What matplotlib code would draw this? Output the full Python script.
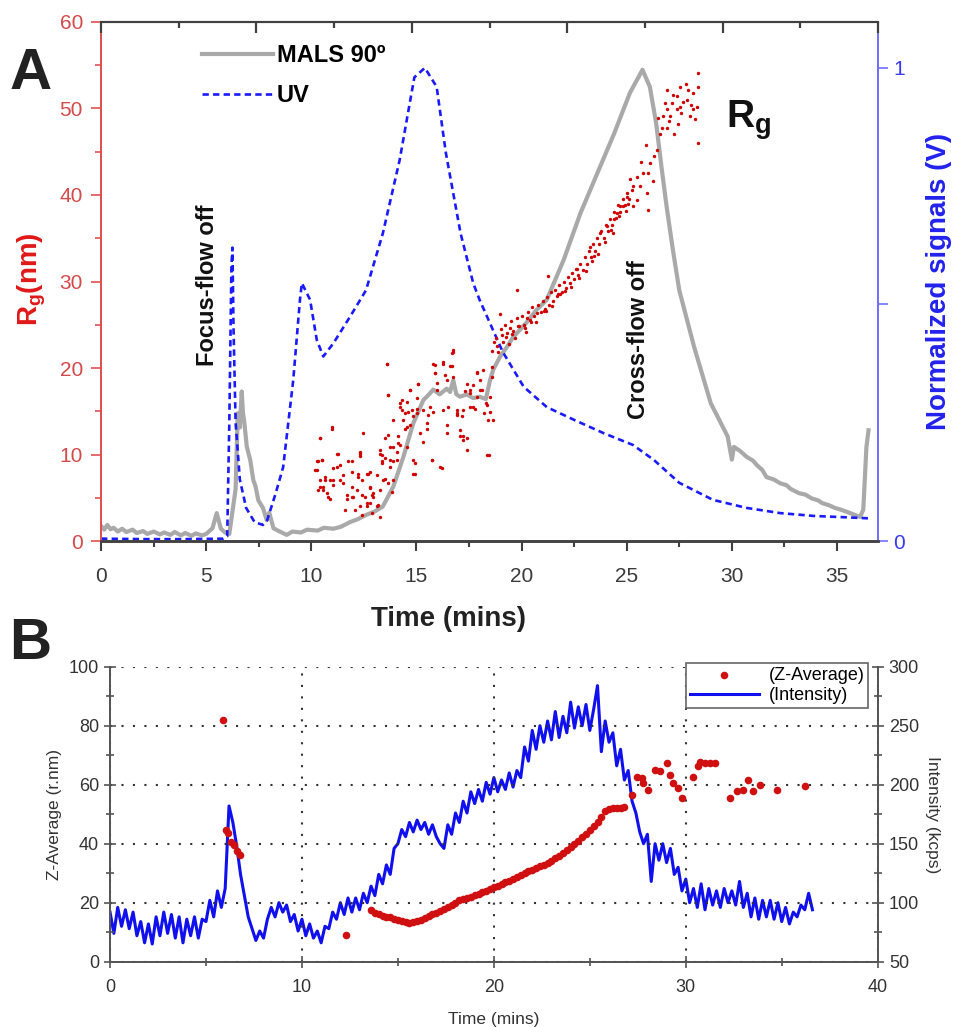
import numpy as np
import matplotlib
matplotlib.use('Agg')
import matplotlib.pyplot as plt

plt.rcParams['font.family'] = ['Liberation Sans', 'DejaVu Sans']
plt.rcParams['mathtext.fontset'] = 'custom'
plt.rcParams['mathtext.rm'] = 'Liberation Sans'
plt.rcParams['mathtext.bf'] = 'Liberation Sans:bold'

# ---------------- panel A data ----------------
# UV trace (normalized)
uv_t = [0.0, 2.0, 4.0, 5.8, 6.0, 6.1, 6.2, 6.25, 6.3, 6.4, 6.6, 6.9, 7.3, 7.7, 7.9, 8.3, 8.66, 9.14,
        9.46, 9.55, 9.94, 10.26, 10.57, 11.05, 11.84, 12.6, 13.4, 14.2, 14.9, 15.4, 15.96, 16.4,
        17.1, 17.7, 18.0, 19.1, 20.1, 21.2, 22.5, 23.9, 25.3, 26.3, 27.5, 29.1, 30.7, 32.3, 33.9,
        35.5, 36.5]
uv_v = [0.005, 0.004, 0.004, 0.005, 0.01, 0.25, 0.58, 0.62, 0.45, 0.25, 0.13, 0.07, 0.04, 0.034,
        0.044, 0.10, 0.156, 0.34, 0.51, 0.545, 0.51, 0.425, 0.39, 0.418, 0.474, 0.53, 0.65, 0.805,
        0.98, 1.0, 0.96, 0.82, 0.65, 0.545, 0.51, 0.40, 0.326, 0.283, 0.256, 0.228, 0.203, 0.171,
        0.123, 0.087, 0.07, 0.059, 0.053, 0.05, 0.048]

# MALS 90 deg trace (normalized)
mals_t = [0.0, 0.15, 0.3, 0.45, 0.6, 0.8, 1.0, 1.2, 1.5, 1.7, 2.0, 2.2, 2.5, 2.8, 3.0, 3.3, 3.5, 3.8,
          4.0, 4.3, 4.5, 4.8, 5.0, 5.3, 5.5, 5.7, 5.9, 6.1, 6.4, 6.5, 6.6, 6.69, 6.75, 6.8, 6.93,
          7.1, 7.24, 7.35, 7.48, 7.7, 7.88, 8.0, 8.2, 8.5, 8.83, 9.1, 9.5, 9.8, 10.3, 10.6, 11.05,
          11.4, 11.84, 12.2, 12.6, 13.0, 13.4, 13.9, 14.38, 14.85, 15.33, 15.6, 15.8, 16.1, 16.44,
          16.6, 16.75, 16.9, 17.07, 17.4, 17.7, 18.0, 18.3, 18.5, 18.65, 18.97, 19.3, 19.6, 20.2,
          20.7, 21.2, 22.0, 22.8, 23.6, 24.4, 25.15, 25.75, 26.1, 26.4, 26.65, 26.9, 27.2, 27.5,
          28.2, 29.0, 29.8, 30.0, 30.1, 30.4, 30.7, 31.0, 31.2, 31.45, 31.65, 32.0, 32.3, 32.6,
          32.8, 33.2, 33.5, 33.8, 34.1, 34.3, 34.6, 34.9, 35.2, 35.45, 35.8, 36.1, 36.25, 36.4, 36.5]
mals_v = [0.032, 0.024, 0.034, 0.025, 0.028, 0.020, 0.026, 0.019, 0.024, 0.017, 0.021, 0.015, 0.020,
          0.014, 0.018, 0.013, 0.019, 0.012, 0.017, 0.011, 0.016, 0.012, 0.015, 0.027, 0.059, 0.026,
          0.018, 0.015, 0.11, 0.27, 0.24, 0.316, 0.27, 0.256, 0.20, 0.17, 0.129, 0.115, 0.086, 0.07,
          0.044, 0.06, 0.027, 0.02, 0.013, 0.02, 0.018, 0.024, 0.022, 0.028, 0.026, 0.03, 0.040, 0.046,
          0.055, 0.062, 0.073, 0.115, 0.178, 0.249, 0.298, 0.31, 0.32, 0.31, 0.322, 0.315, 0.34,
          0.31, 0.305, 0.31, 0.302, 0.305, 0.30, 0.34, 0.362, 0.389, 0.41, 0.431, 0.46, 0.488, 0.51,
          0.594, 0.693, 0.777, 0.861, 0.947, 0.996, 0.96, 0.883, 0.792, 0.706, 0.614, 0.53, 0.411,
          0.291, 0.221, 0.172, 0.199, 0.19, 0.178, 0.17, 0.16, 0.15, 0.135, 0.13, 0.122, 0.118,
          0.11, 0.101, 0.098, 0.09, 0.086, 0.080, 0.076, 0.07, 0.066, 0.062, 0.056, 0.051, 0.066,
          0.199, 0.234]

# Rg scatter (nm)
rg_t = [10.41, 10.49, 10.26, 10.18, 10.41, 10.57, 10.33, 10.65, 10.73, 10.97, 10.89, 11.05, 11.21,
        11.28, 11.36, 11.52, 11.68, 11.76, 11.92, 12.0, 12.08, 12.24, 12.32, 12.39, 12.47, 12.55,
        12.63, 12.71, 12.79, 12.87, 12.95, 13.11, 13.27, 13.35, 13.42, 13.5, 13.58, 13.66, 13.74,
        13.9, 14.06, 14.14, 14.22, 14.3, 14.38, 14.46, 14.54, 14.69, 14.77, 14.85, 14.93, 15.01,
        15.09, 15.17, 15.33, 15.49, 15.64, 15.72, 15.8, 15.88, 15.96, 16.12, 16.28, 16.44, 16.6,
        16.68, 16.75, 16.91, 17.07, 17.23, 17.39, 17.55, 17.71, 17.86, 17.9, 18.0, 18.1, 18.2,
        18.3, 18.4, 18.45, 18.5,
        16.75, 16.28, 15.88, 16.68, 13.58, 15.88, 16.36, 16.75, 15.96, 15.09, 17.39, 17.71, 18.18,
        18.58, 18.58, 17.86, 18.02, 17.31, 17.55, 14.69, 13.66, 14.22, 14.54, 15.01, 14.3, 14.62,
        15.01, 15.8, 16.28, 16.52, 16.91, 17.23, 17.55, 17.78, 18.34, 18.5, 13.9, 14.85, 15.57,
        16.91, 17.15, 18.66, 14.69, 15.49, 14.46, 16.44, 10.97, 10.41, 13.66, 14.14, 14.22, 15.33,
        16.44, 17.07, 17.23, 17.39, 14.54, 13.74, 13.27, 12.32, 11.21, 13.35, 14.06, 14.93, 15.72,
        16.2, 18.34, 10.33, 10.49, 11.05, 11.37, 11.92, 12.32, 13.35, 13.5, 13.74, 13.9, 10.26,
        10.65, 10.89, 11.52, 11.92, 12.24, 12.63, 12.79, 13.11, 13.5, 13.9, 14.85, 10.41, 10.57,
        11.05, 10.81, 11.68, 11.92, 12.16, 12.39, 12.79, 12.87, 13.27, 13.82, 11.6, 12.32, 12.79,
        12.95, 13.19, 12.39, 13.27, 12.63, 13.66,
        18.6, 18.8, 18.9, 19.0, 19.1, 19.2, 19.3, 19.4, 19.5, 19.6, 19.7, 19.8, 19.9, 20.0, 20.1,
        20.2, 20.3, 20.4, 20.5, 20.6, 20.7, 20.8, 20.9, 21.0, 21.1, 21.2, 21.3, 21.4, 21.5, 21.6,
        21.7, 21.8, 21.9, 22.0, 22.1, 22.2, 22.3, 22.4, 22.5, 22.6, 22.7, 22.8, 22.9, 23.0, 23.1,
        23.2, 23.3, 23.4, 23.5, 23.6, 23.7, 23.8, 23.9, 24.0, 24.1, 24.2, 24.3, 24.4, 24.5, 24.6,
        24.7, 24.8, 24.9, 25.0, 25.1, 19.76, 21.27, 18.7, 19.45, 20.25, 21.05, 21.85, 22.65, 23.45,
        24.25, 25.05, 18.97, 18.85, 19.05, 19.25, 19.55, 19.85, 20.15, 20.45, 20.75, 21.15, 21.45,
        21.75, 22.05, 22.35, 22.75, 23.05, 23.35, 23.65, 23.95, 24.35, 24.65, 24.95, 25.25,
        23.25, 23.73, 24.04, 24.52, 24.68, 25.0, 25.31, 25.47, 25.95, 26.02, 26.26, 26.1, 26.42,
        26.58, 26.74, 26.9, 27.13, 27.37, 27.53, 27.85, 28.16, 28.32, 28.4, 28.4, 28.4, 26.9,
        27.05, 27.6, 28.0, 28.16, 26.66, 26.9, 27.37, 27.9, 27.53, 25.47, 25.79, 24.84, 25.31,
        25.63, 26.3, 27.0, 27.7, 28.25, 26.0, 25.9, 27.25, 26.8, 27.2, 27.45, 27.8, 28.05, 26.5,
        25.7, 25.15, 24.4]
rg_v = [11.9, 9.4, 9.2, 8.2, 7.05, 6.3, 5.9, 7.05, 5.5, 13.2, 4.9, 7.05, 8.6, 10.1, 7.05, 6.7, 4.9,
        9.2, 6.3, 5.1, 3.6, 7.8, 10.1, 7.05, 12.5, 5.1, 4.0, 7.8, 6.3, 3.2, 5.5, 4.0, 10.1, 9.2,
        7.05, 11.9, 20.5, 16.9, 8.6, 10.9, 9.4, 11.3, 15.5, 16.3, 14.0, 14.8, 13.2, 17.5, 15.1,
        9.4, 7.8, 14.8, 18.2, 12.5, 15.1, 13.6, 15.5, 9.4, 20.5, 19.4, 17.5, 8.6, 20.5, 18.6,
        20.2, 21.7, 22.1, 14.8, 12.8, 12.1, 10.5, 17.5, 15.5, 16.7, 19.5, 18.6, 17.5, 14.8, 15.9,
        14.0, 9.9, 16.7,
        21.9, 20.7, 20.3, 20.2, 20.5, 19.4, 19.2, 19.0, 18.3, 18.2, 18.2, 18.0, 19.8,
        20.1, 19.0, 19.4, 17.5, 17.3, 17.1, 17.5, 16.9, 15.9, 16.1, 16.5, 15.1, 14.9,
        15.3, 14.9, 15.1, 15.5, 15.1, 15.1, 15.5, 15.3, 15.7, 14.9, 14.0, 14.4, 14.6,
        14.6, 14.4, 14.0, 13.4, 13.0, 13.0, 13.4, 13.0, 11.9, 12.3, 12.1, 11.1, 11.5,
        12.5, 12.1, 11.7, 11.9, 10.9, 10.9, 10.5, 10.3, 10.1, 10.0, 10.3, 9.0, 9.4,
        8.4, 10.0, 9.2, 9.4, 8.4, 8.8, 9.2, 9.8, 9.0, 9.6, 9.4, 9.2, 8.2,
        7.4, 7.1, 7.6, 8.0, 7.4, 7.8, 8.0, 7.6, 7.2, 7.1, 7.8, 6.3, 5.9,
        6.5, 5.1, 5.3, 5.1, 5.9, 5.3, 6.1, 5.3, 5.9, 5.7, 3.6, 4.0, 4.4,
        5.1, 4.2, 3.0, 2.8, 4.4, 6.7,
        22.0, 23.5, 21.8, 24.5, 23.0, 25.0, 24.0, 22.8, 25.4, 24.3, 23.5, 25.8, 24.8, 26.0, 25.0,
        24.2, 26.5, 25.5, 27.0, 26.0, 25.3, 27.3, 26.5, 27.8, 26.8, 28.2, 27.3, 28.8, 27.8, 29.0,
        28.3, 29.6, 28.8, 30.0, 29.2, 30.5, 29.8, 31.0, 30.3, 31.5, 30.8, 32.0, 31.3, 32.8, 32.0,
        33.5, 32.8, 34.3, 33.5, 35.0, 34.3, 35.8, 35.0, 36.5, 35.8, 37.2, 36.5, 38.0, 37.3, 38.8,
        38.0, 39.5, 38.8, 40.2, 39.5, 29.0, 30.6, 23.0, 24.6, 25.8, 26.6, 28.6, 31.4, 33.0,
        36.0, 39.0, 26.3, 22.6, 23.8, 23.6, 23.9, 24.9, 24.6, 25.3, 26.4, 26.6, 27.2,
        28.6, 28.9, 29.4, 30.4, 31.2, 32.4, 33.2, 34.6, 35.6, 37.6, 38.2, 40.6,
        34.0, 35.6, 36.4, 37.9, 38.7, 39.8, 41.0, 42.1, 40.2, 38.3, 41.6, 43.7, 45.2, 47.1, 49.1,
        49.9, 50.6, 51.4, 50.2, 51.0, 51.8, 50.2, 52.5, 54.1, 46.0, 52.1, 49.1, 49.5, 49.1, 49.9,
        47.8, 47.8, 49.9, 52.1, 52.5, 39.4, 42.5, 38.7, 38.7, 41.0, 44.5, 48.5, 50.8, 48.8, 42.5,
        45.8, 47.0, 50.6, 51.6, 48.2, 52.8, 50.4, 48.9, 43.8, 41.9, 37.2]

# ---------------- panel B data ----------------
# scattered light intensity (kcps), sampled every 0.2 min from t = 0
intensity = [92, 74, 96, 80, 94, 78, 92, 72, 84, 66, 82, 65, 88, 72, 92, 74, 90, 70, 88, 66,
             86, 72, 88, 70, 86, 84, 102, 88, 110, 96, 112, 182, 168, 148, 124, 106, 88, 78, 68, 76,
             70, 86, 96, 88, 100, 92, 98, 84, 90, 76, 86, 72, 82, 70, 76, 66, 80, 78, 92, 86,
             100, 90, 104, 92, 104, 94, 108, 100, 114, 106, 124, 116, 132, 124, 146, 150, 162, 156, 168, 160,
             170, 162, 168, 158, 166, 156, 150, 146, 166, 158, 176, 168, 186, 176, 194, 184, 196, 186, 202, 192,
             206, 194, 204, 196, 210, 198, 212, 206, 232, 220, 246, 230, 250, 236, 254, 238, 262, 240, 258, 244,
             270, 248, 266, 250, 268, 246, 264, 284, 228, 254, 236, 244, 216, 230, 204, 212, 186, 176, 160, 150,
             158, 118, 150, 136, 150, 134, 146, 124, 130, 110, 120, 100, 112, 96, 116, 94, 112, 98, 110, 96,
             112, 100, 110, 98, 118, 96, 108, 88, 104, 86, 102, 88, 102, 86, 100, 84, 96, 82, 92, 88,
             98, 94, 108, 94]
int_t = np.arange(len(intensity)) * 0.2

# Z-average (r.nm)
zavg_t = [5.87, 6.05, 6.15, 6.3, 6.45, 6.6, 6.75, 12.28,
          13.6, 13.8, 14.0, 14.2, 14.4, 14.6, 14.8, 15.0, 15.2, 15.4, 15.6, 15.8, 16.0, 16.2, 16.4,
          16.6, 16.8, 17.0, 17.2, 17.4, 17.6, 17.8, 18.0, 18.2, 18.4, 18.6, 18.8, 19.0, 19.2, 19.4,
          19.6, 19.8, 20.0, 20.2, 20.4, 20.6, 20.8, 21.0, 21.2, 21.4, 21.6, 21.8, 22.0, 22.2, 22.4,
          22.6, 22.8, 23.0, 23.2, 23.4, 23.6, 23.8, 24.0, 24.2, 24.4, 24.6, 24.8, 25.0, 25.2, 25.4,
          25.6, 25.8, 26.0, 26.2, 26.4, 26.6, 26.8,
          27.19, 27.44, 27.7, 27.79, 28.05, 28.4, 28.66, 29.0, 29.2, 29.35, 29.6, 29.8, 30.38, 30.64,
          30.73, 30.99, 31.25, 31.51, 32.3, 32.65, 32.99, 33.25, 33.51, 33.86, 34.73, 36.2]
zavg = [81.8, 44.5, 43.5, 40.5, 39.5, 37.5, 36.3, 9.0,
        17.6, 16.5, 16.0, 15.6, 15.2, 15.0, 14.5, 14.2, 13.8, 13.5, 13.2, 13.4, 13.8, 14.3, 14.8,
        15.4, 16.0, 16.6, 17.2, 17.8, 18.4, 19.3, 20.0, 20.8, 21.2, 21.6, 22.0, 22.5, 23.0, 23.6,
        24.0, 24.6, 25.2, 25.6, 26.4, 26.9, 27.4, 28.2, 28.8, 29.4, 29.9, 30.6, 31.2, 31.8, 32.4,
        32.9, 33.4, 34.2, 35.0, 35.8, 36.7, 37.8, 38.8, 39.8, 41.0, 42.2, 43.4, 44.6, 46.0, 47.2,
        49.0, 51.0, 51.8, 52.0, 52.2, 52.0, 52.3,
        56.5, 62.7, 62.2, 60.5, 58.3, 65.1, 64.5, 67.3, 63.4, 60.5, 58.8, 55.5, 62.7, 66.2,
        67.8, 67.3, 67.3, 67.3, 55.5, 57.7, 58.3, 61.6, 57.7, 59.9, 58.3, 59.6]

# ---------------- figure ----------------
fig = plt.figure(figsize=(9.56, 10.27), dpi=100)

red_tick = '#d44a4a'
blue_tick = '#3a3af0'
dark = '#404040'
rectA = [0.1057, 0.4732, 0.8127, 0.5054]

# ---- panel A ----
axA = fig.add_axes(rectA)
axA2 = axA.twinx()

axA2.plot(mals_t, mals_v, color='#a9a9a9', lw=3.0, label='MALS 90º', solid_joinstyle='round')
axA2.plot(uv_t, uv_v, color='#1a1aff', lw=1.9, ls=(0, (2.4, 1.6)), label='UV')
axA.scatter(rg_t, rg_v, s=6, color='#d00000', lw=0, zorder=3)

axA.set_zorder(axA2.get_zorder() + 1)
axA.patch.set_visible(False)

axA.set_xlim(0, 36.95)
axA.set_ylim(0, 60)
axA2.set_ylim(0, 1.097)

axA.set_xticks(np.arange(0, 36, 5))
axA.set_xticks(np.arange(2.5, 36, 5), minor=True)
axA.set_yticks(np.arange(0, 61, 10))
axA.set_yticks(np.arange(5, 60, 10), minor=True)
axA2.set_yticks([0, 0.5, 1])
axA2.set_yticklabels(['0', '', '1'])

axA.tick_params(axis='x', which='major', direction='out', length=7, width=1.5, color=dark,
                labelsize=15, labelcolor='#3a3a3a', pad=12, top=False)
axA.tick_params(axis='x', which='minor', direction='out', length=4, width=1.5, color=dark, top=False)
axA.tick_params(axis='y', which='major', direction='out', length=7, width=1.2, color='#e05050',
                labelsize=15, labelcolor=red_tick, pad=6)
axA.tick_params(axis='y', which='minor', direction='out', length=4, width=1.2, color='#e05050')
axA2.tick_params(axis='y', direction='out', length=7, width=1.2, color='#7070ff',
                 labelsize=15, labelcolor=blue_tick, pad=4)

for a in (axA, axA2):
    a.spines['bottom'].set_color(dark)
    a.spines['bottom'].set_linewidth(1.8)
    a.spines['top'].set_color(dark)
    a.spines['top'].set_linewidth(1.5)
    a.spines['left'].set_color('#e05050')
    a.spines['left'].set_linewidth(1.3)
    a.spines['right'].set_color('#7070ff')
    a.spines['right'].set_linewidth(1.3)

# overlay axes only for the inward ticks along the top edge (10 divisions)
topA = fig.add_axes(rectA, label='top ticks')
topA.set_zorder(10)
topA.patch.set_visible(False)
for s in ('left', 'right', 'bottom', 'top'):
    topA.spines[s].set_visible(False)
topA.set_xlim(0, 36.95)
topA.set_xticks(np.linspace(0, 36.95, 6))
topA.set_xticks(np.linspace(3.695, 33.255, 5), minor=True)
topA.set_yticks([])
topA.tick_params(axis='x', which='major', direction='in', length=8, width=1.6, color=dark,
                 top=True, bottom=False, labeltop=False, labelbottom=False)
topA.tick_params(axis='x', which='minor', direction='in', length=4.5, width=1.6, color=dark,
                 top=True, bottom=False)

axA.set_xlabel('Time (mins)', fontsize=20, fontweight='bold', color='#222222')
axA.xaxis.set_label_coords(0.447, -0.125)
axA.set_ylabel(r'R$_\mathbf{g}$(nm)', fontsize=20, fontweight='bold', color='#e01818')
axA.yaxis.set_label_coords(-0.068, 0.505)
axA2.set_ylabel('Normalized signals (V)', fontsize=20, fontweight='bold', color='#2222ee',
                rotation=90)
axA2.yaxis.set_label_coords(1.062, 0.5)

leg = axA2.legend(loc='upper left', bbox_to_anchor=(0.118, 0.975), frameon=False,
                  prop={'size': 17, 'weight': 'bold'}, handlelength=3.0, handletextpad=0.15,
                  labelspacing=0.7, borderaxespad=0)

axA.text(5.05, 29.6, 'Focus-flow off', rotation=90, fontsize=17, fontweight='bold',
         ha='center', va='center', color='#111111')
axA.text(25.55, 23.3, 'Cross-flow off', rotation=90, fontsize=17, fontweight='bold',
         ha='center', va='center', color='#111111')
axA.text(29.7, 48.7, r'$\mathbf{R_g}$', fontsize=28, ha='left', va='center', color='#111111')

fig.text(0.010, 0.928, 'A', fontsize=42, fontweight='bold', color='#222222', ha='left', va='center')

# ---- panel B ----
axB = fig.add_axes([0.1151, 0.0636, 0.8030, 0.2872])
axB2 = axB.twinx()

axB2.plot(int_t, intensity, color='#1010ee', lw=2.2, label='(Intensity)')
axB.scatter(zavg_t, zavg, s=30, color='#d01010', lw=0, label='(Z-Average)', zorder=3)

axB.set_zorder(axB2.get_zorder() + 1)
axB.patch.set_visible(False)

axB.set_xlim(0, 40)
axB.set_ylim(0, 100)
axB2.set_ylim(50, 300)

axB.set_xticks([0, 10, 20, 30, 40])
axB.set_xticks([5, 15, 25, 35], minor=True)
axB.set_yticks(np.arange(0, 101, 20))
axB.set_yticks(np.arange(10, 100, 20), minor=True)
axB2.set_yticks(np.arange(50, 301, 50))
axB2.set_yticks(np.arange(75, 300, 50), minor=True)

for a in (axB, axB2):
    a.tick_params(which='major', direction='inout', length=9, width=1.2, color='#555555',
                  labelsize=13, labelcolor='#333333')
    a.tick_params(which='minor', direction='inout', length=6, width=1.2, color='#555555')
    a.spines['top'].set_visible(False)
    for s in ('left', 'right', 'bottom'):
        a.spines[s].set_color('#555555')
        a.spines[s].set_linewidth(1.3)
axB.tick_params(axis='x', pad=8)

axB.grid(True, which='major', color='#333333', ls=(0, (1, 4.5)), lw=1.5)

axB.set_xlabel('Time (mins)', fontsize=12.5, color='#333333')
axB.xaxis.set_label_coords(0.5, -0.17)
axB.set_ylabel('Z-Average (r.nm)', fontsize=12.5, color='#333333')
axB.yaxis.set_label_coords(-0.0625, 0.5)
axB2.set_ylabel('Intensity (kcps)', fontsize=12.5, color='#333333', rotation=270)
axB2.yaxis.set_label_coords(1.081, 0.5)

h1, l1 = axB.get_legend_handles_labels()
h2, l2 = axB2.get_legend_handles_labels()
legB = axB.legend(h1 + h2, l1 + l2, loc='upper right', bbox_to_anchor=(0.9875, 1.0125),
                  fontsize=13, frameon=True, fancybox=False, edgecolor='#666666', framealpha=1,
                  handlelength=3.8, borderpad=0.2, labelspacing=0.2, handletextpad=0.55,
                  borderaxespad=0)
legB.get_frame().set_linewidth(1.2)

fig.text(0.010, 0.373, 'B', fontsize=42, fontweight='bold', color='#222222', ha='left', va='center')

fig.savefig('out.png', dpi=100)
